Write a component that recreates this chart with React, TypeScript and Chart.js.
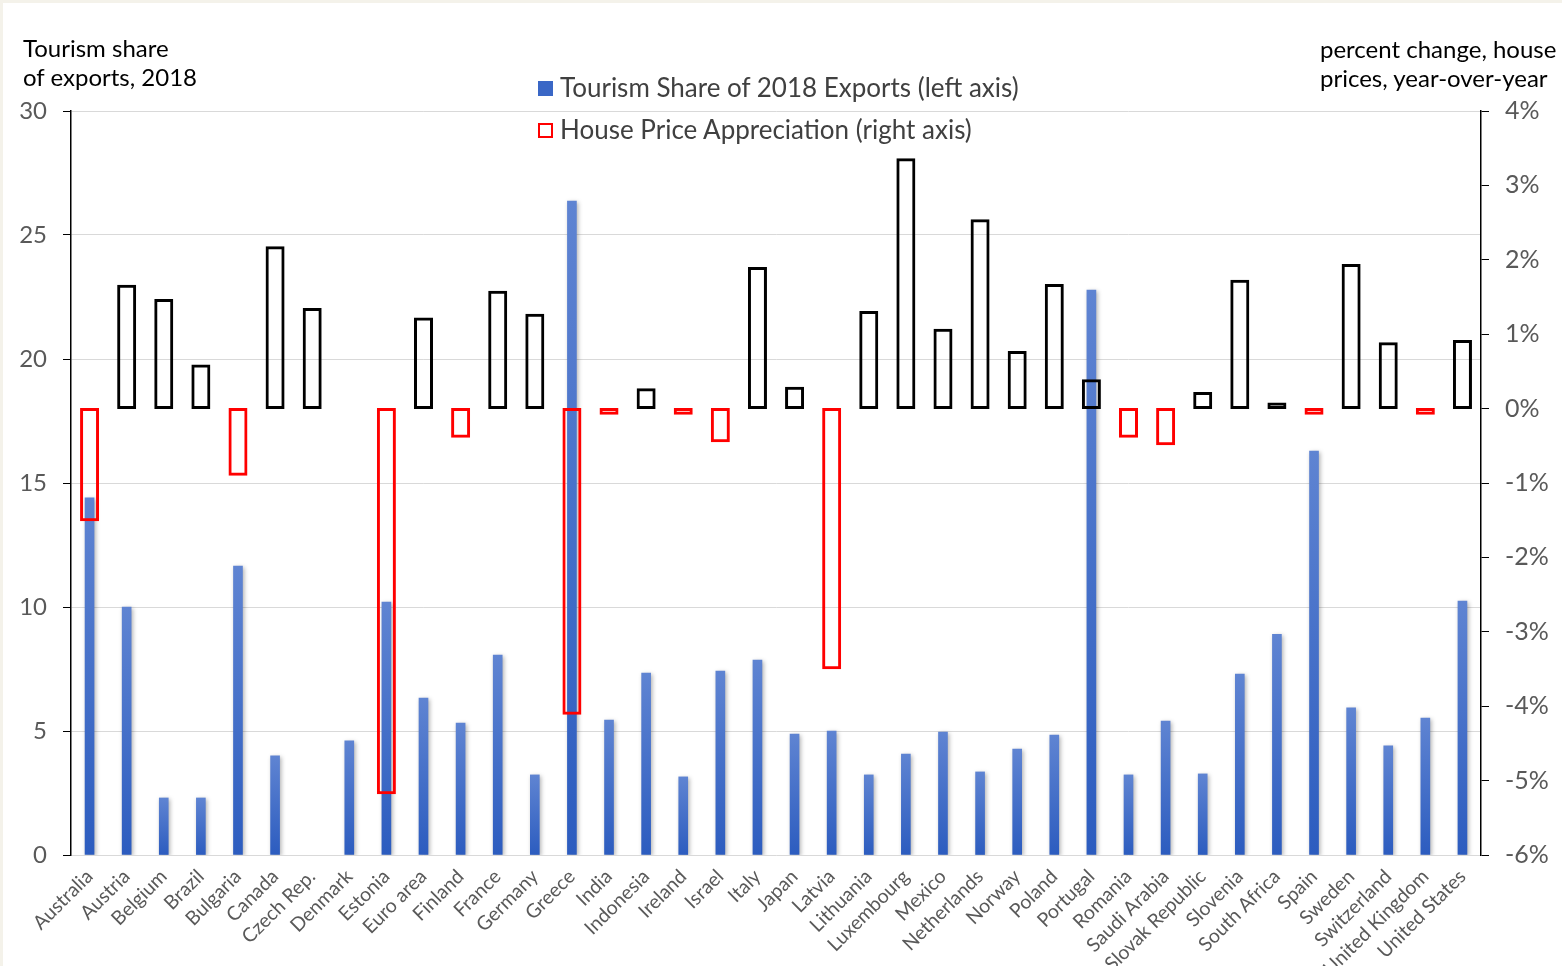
import React, { useEffect, useRef } from "react";
import { Chart, registerables } from "chart.js";

Chart.register(...registerables);

const countries = [
  "Australia", "Austria", "Belgium", "Brazil", "Bulgaria", "Canada", "Czech Rep.", "Denmark",
  "Estonia", "Euro area", "Finland", "France", "Germany", "Greece", "India", "Indonesia",
  "Ireland", "Israel", "Italy", "Japan", "Latvia", "Lithuania", "Luxembourg", "Mexico",
  "Netherlands", "Norway", "Poland", "Portugal", "Romania", "Saudi Arabia", "Slovak Republic",
  "Slovenia", "South Africa", "Spain", "Sweden", "Switzerland", "United Kingdom", "United States",
];

// Tourism share of 2018 exports (left axis)
const tourismShare: (number | null)[] = [
  14.4, 10.0, 2.3, 2.3, 11.65, 4.0, null, 4.6,
  10.2, 6.33, 5.32, 8.06, 3.23, 26.37, 5.44, 7.34,
  3.15, 7.42, 7.86, 4.88, 5.0, 3.23, 4.07, 4.96,
  3.35, 4.27, 4.84, 22.78, 3.23, 5.4, 3.27,
  7.3, 8.9, 16.29, 5.93, 4.4, 5.52, 10.24,
];

// House price appreciation, % y/y (right axis)
const housePriceChange: (number | null)[] = [
  -1.5, 1.65, 1.46, 0.58, -0.89, 2.17, 1.34, null,
  -5.17, 1.21, -0.38, 1.57, 1.26, -4.1, -0.07, 0.26,
  -0.07, -0.44, 1.89, 0.28, -3.49, 1.3, 3.35, 1.06,
  2.53, 0.76, 1.66, 0.38, -0.38, -0.48, 0.21,
  1.72, 0.07, -0.07, 1.93, 0.88, -0.07, 0.91,
];

const leftAxis = { min: 0, max: 30, step: 5 };
const rightAxis = { min: -6, max: 4, step: 1 };

const legendLabels = [
  "Tourism Share of 2018 Exports (left axis)",
  "House Price Appreciation (right axis)",
];

const FONT = "Lato, 'Open Sans', sans-serif";

// soft shadow behind the blue bars only (dataset index 1)
const shadowPlugin = {
  id: "barShadow",
  beforeDatasetDraw(chart: any, args: any) {
    const ctx = chart.ctx;
    ctx.save();
    if (args.index === 1) {
      ctx.shadowColor = "rgba(0,0,0,0.3)";
      ctx.shadowBlur = 4;
      ctx.shadowOffsetX = 1.5;
      ctx.shadowOffsetY = 1.5;
    }
  },
  afterDatasetDraw(chart: any) {
    chart.ctx.restore();
  },
};

export default function App() {
  const canvasRef = useRef<HTMLCanvasElement | null>(null);

  useEffect(() => {
    if (!canvasRef.current) return;
    Chart.defaults.font.family = FONT;
    const chart = new Chart(canvasRef.current, {
      type: "bar",
      data: {
        labels: countries,
        datasets: [
          {
            label: legendLabels[1],
            data: housePriceChange.map((v) => (v == null ? null : [0, v])) as any,
            yAxisID: "y1",
            backgroundColor: "rgba(255,255,255,0)",
            borderColor: housePriceChange.map((v) => (v != null && v < 0 ? "#ff0000" : "#000000")),
            borderWidth: 1,
            borderSkipped: false,
            inflateAmount: 1,
            barThickness: 17,
            grouped: false,
            order: 0,
          } as any,
          {
            label: legendLabels[0],
            data: tourismShare,
            yAxisID: "y",
            backgroundColor: (c: any) => {
              const ch = c.chart;
              if (!ch.chartArea || c.type !== "data" || c.raw == null) return "#3a67c6";
              const ys = ch.scales.y;
              const top = ys.getPixelForValue(c.raw);
              const base = ys.getPixelForValue(0);
              if (!isFinite(top) || !isFinite(base) || top === base) return "#3a67c6";
              const g = ch.ctx.createLinearGradient(0, top, 0, base);
              g.addColorStop(0, "#5f84d2");
              g.addColorStop(1, "#2c5cbf");
              return g;
            },
            borderWidth: 0,
            barThickness: 9,
            grouped: false,
            order: 1,
          } as any,
        ],
      },
      options: {
        animation: false,
        responsive: false,
        devicePixelRatio: 1,
        layout: { padding: { top: 111, left: 0, right: 0, bottom: 0 } },
        plugins: {
          legend: { display: false },
          tooltip: { enabled: false },
          title: { display: false },
        },
        scales: {
          x: {
            grid: { display: false },
            border: { display: false },
            ticks: {
              autoSkip: false,
              maxRotation: 45,
              minRotation: 45,
              color: "#595959",
              font: { family: FONT, size: 19.5 },
              padding: 2,
            },
            afterFit: (s: any) => {
              s.height = 111;
            },
          },
          y: {
            position: "left",
            min: leftAxis.min,
            max: leftAxis.max,
            ticks: {
              stepSize: leftAxis.step,
              color: "#595959",
              font: { family: FONT, size: 24 },
              padding: 16,
            },
            grid: { color: "#d9d9d9", tickColor: "#000000", tickLength: 8, lineWidth: 1 },
            border: { color: "#000000", width: 1.5 },
            afterFit: (s: any) => {
              s.width = 71;
            },
          },
          y1: {
            position: "right",
            min: rightAxis.min,
            max: rightAxis.max,
            ticks: {
              stepSize: rightAxis.step,
              color: "#595959",
              font: { family: FONT, size: 25 },
              padding: 16,
              callback: (v: any) => `${v}%`,
            },
            grid: { drawOnChartArea: false, tickColor: "#000000", tickLength: 8 },
            border: { color: "#000000", width: 1.5 },
            afterFit: (s: any) => {
              s.width = 81;
            },
          },
        },
      } as any,
      plugins: [shadowPlugin],
    });
    return () => chart.destroy();
  }, []);

  const textBase: React.CSSProperties = { position: "absolute", fontFamily: FONT, whiteSpace: "nowrap" };

  return (
    <div
      style={{
        position: "fixed",
        left: 0,
        top: 0,
        width: 1562,
        height: 966,
        background: "#ffffff",
        borderTop: "3px solid #f4f2ea",
        borderLeft: "3px solid #f4f2ea",
        boxSizing: "border-box",
        overflow: "hidden",
      }}
    >
      <canvas
        ref={canvasRef}
        width={1562}
        height={966}
        style={{ position: "absolute", left: -3, top: -3, width: 1562, height: 966 }}
      />
      <div style={{ ...textBase, left: 20, top: 30, fontSize: 24, lineHeight: "29px", color: "#000" }}>
        Tourism share
        <br />
        of exports, 2018
      </div>
      <div style={{ ...textBase, left: 1317, top: 31, fontSize: 24, lineHeight: "29px", color: "#000" }}>
        percent change, house
        <br />
        prices, year-over-year
      </div>
      <div style={{ ...textBase, left: 535, top: 69, fontSize: 26, lineHeight: "30px", color: "#404040" }}>
        <span
          style={{
            display: "inline-block",
            width: 15,
            height: 15,
            background: "#3a67c6",
            marginRight: 7,
            verticalAlign: "middle",
            position: "relative",
            top: -2,
          }}
        />
        {legendLabels[0]}
      </div>
      <div style={{ ...textBase, left: 535, top: 111, fontSize: 26, lineHeight: "30px", color: "#404040" }}>
        <span
          style={{
            display: "inline-block",
            width: 15,
            height: 15,
            border: "2px solid #ff0000",
            boxSizing: "border-box",
            marginRight: 7,
            verticalAlign: "middle",
            position: "relative",
            top: -2,
          }}
        />
        {legendLabels[1]}
      </div>
    </div>
  );
}
